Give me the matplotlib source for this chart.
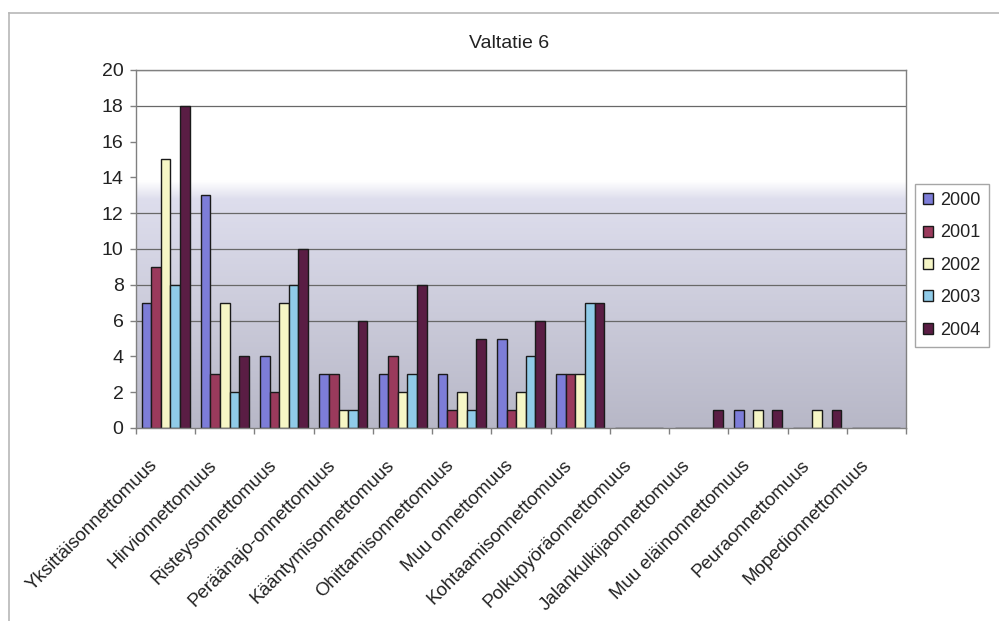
import numpy as np
import matplotlib
matplotlib.use("Agg")
import matplotlib.pyplot as plt
from matplotlib.lines import Line2D

plt.rcParams['font.family'] = ['Liberation Sans', 'DejaVu Sans']

title = "Valtatie 6"
categories = [
    "Yksittäisonnettomuus",
    "Hirvionnettomuus",
    "Risteysonnettomuus",
    "Peräänajo-onnettomuus",
    "Kääntymisonnettomuus",
    "Ohittamisonnettomuus",
    "Muu onnettomuus",
    "Kohtaamisonnettomuus",
    "Polkupyöräonnettomuus",
    "Jalankulkijaonnettomuus",
    "Muu eläinonnettomuus",
    "Peuraonnettomuus",
    "Mopedionnettomuus",
]
years = ["2000", "2001", "2002", "2003", "2004"]
v2000 = [7, 13, 4, 3, 3, 3, 5, 3, 0, 0, 1, 0, 0]
v2001 = [9, 3, 2, 3, 4, 1, 1, 3, 0, 0, 0, 0, 0]
v2002 = [15, 7, 7, 1, 2, 2, 2, 3, 0, 0, 1, 1, 0]
v2003 = [8, 2, 8, 1, 3, 1, 4, 7, 0, 0, 0, 0, 0]
v2004 = [18, 4, 10, 6, 8, 5, 6, 7, 0, 1, 1, 1, 0]
series = [v2000, v2001, v2002, v2003, v2004]
colors = ["#7d7dd8", "#9a3a5c", "#f6f6c6", "#90cbe8", "#5a1d44"]

W, H = 999, 621
fig = plt.figure(figsize=(W / 100, H / 100), dpi=100)
fig.patch.set_facecolor("white")

# outer chart frame (top and left edges)
fig.add_artist(Line2D([9 / W, 9 / W], [0, 1 - 13 / H], transform=fig.transFigure,
                      color="#b8b8b8", lw=1.2))
fig.add_artist(Line2D([9 / W, 1], [1 - 13 / H, 1 - 13 / H], transform=fig.transFigure,
                      color="#b8b8b8", lw=1.2))

left, right, top, bottom = 136, 906, 70, 428
ax = fig.add_axes([left / W, 1 - bottom / H, (right - left) / W, (bottom - top) / H])

n = len(categories)
ax.set_xlim(0, n)
ax.set_ylim(0, 20)

# plot-area background: white above, lavender-grey fade below
grad_h = 400
g = np.zeros((grad_h, 1, 3))
ys = np.linspace(20, 0, grad_h)
white = np.array([1.0, 1.0, 1.0])
light = np.array([0.87, 0.87, 0.93])
dark = np.array([0.72, 0.72, 0.78])
for i, yv in enumerate(ys):
    if yv > 13.8:
        g[i, 0] = white
    elif yv > 12.8:
        t = (13.8 - yv) / 1.0
        g[i, 0] = white * (1 - t) + light * t
    else:
        t = (12.8 - yv) / 12.8
        g[i, 0] = light * (1 - t) + dark * t
ax.imshow(g, extent=[0, n, 0, 20], aspect="auto", zorder=0, interpolation="bilinear")

grid_levels = [6, 8, 10, 12, 18, 20]
for gl in grid_levels:
    ax.axhline(gl, color="#686868", lw=0.9, zorder=1)

x = np.arange(n) + 0.5
bw = 0.162
for k, (vals, c, yr) in enumerate(zip(series, colors, years)):
    ax.bar(x + (k - 2) * bw, vals, width=bw, color=c, edgecolor="#1a1a1a",
           linewidth=1.0, label=yr, zorder=2)

for s in ax.spines.values():
    s.set_color("#808080")
    s.set_linewidth(1.0)

ax.set_yticks(range(0, 21, 2))
ax.set_yticklabels([str(v) for v in range(0, 21, 2)], fontsize=14, color="#222222")
ax.set_xticks(np.arange(n + 1), minor=False)
ax.set_xticklabels([""] * (n + 1))
ax.tick_params(axis="both", direction="out", length=4, color="#808080", width=1)
ax.tick_params(axis="y", pad=5)

for i, name in enumerate(categories):
    ax.text(i + 0.22, -1.6, name, rotation=45, ha="right", va="top",
            rotation_mode="anchor", fontsize=13.5, color="#222222", zorder=3,
            clip_on=False)

fig.text(509 / W, 1 - 43 / H, title, ha="center", va="center", fontsize=14,
         color="#222222")

leg = ax.legend(loc="upper left", bbox_to_anchor=((915 - left) / (right - left),
                (bottom - 184) / (bottom - top)),
                frameon=True, fancybox=False, fontsize=13, handlelength=0.55,
                handleheight=0.55, handletextpad=0.4, labelspacing=0.85,
                borderpad=0.45, borderaxespad=0)
leg.get_frame().set_edgecolor("#909090")
leg.get_frame().set_linewidth(1.0)
for t in leg.get_texts():
    t.set_color("#222222")

fig.savefig("out.png", dpi=100, facecolor="white")
